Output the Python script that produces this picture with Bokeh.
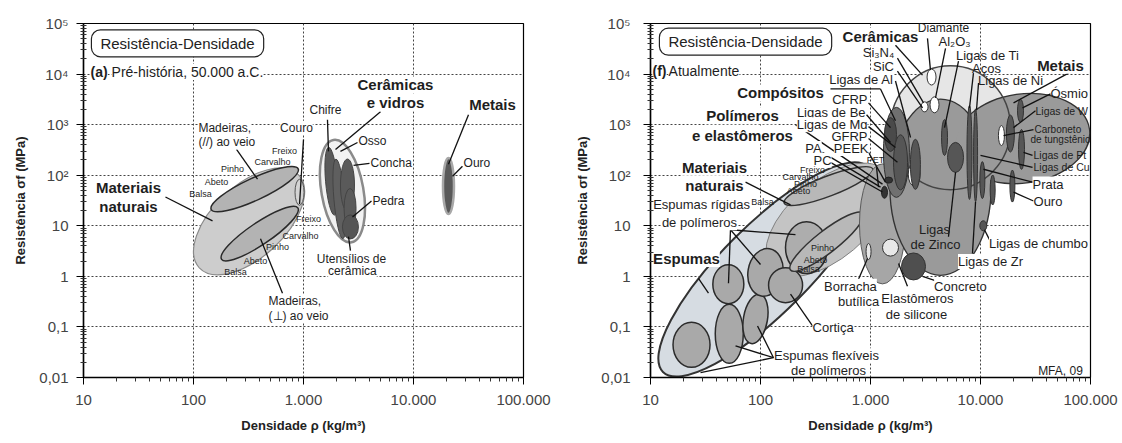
import math
from bokeh.plotting import figure
from bokeh.layouts import row
from bokeh.models import Range1d, FixedTicker, CustomJSTickFormatter, ColumnDataSource, Label
from bokeh.core.properties import value
from bokeh.embed import file_html
from bokeh.resources import INLINE

FONT = "Liberation Sans"

# ---------------- axes data ----------------
x_ticks = [10, 100, 1000, 10000, 100000]
x_tick_labels = ["10", "100", "1.000", "10.000", "100.000"]
y_ticks = [0.01, 0.1, 1, 10, 100, 1000, 10000, 100000]
y_tick_labels = ["0,01", "0,1", "1", "10", "10²", "10³", "10⁴", "10⁵"]

# ---------------- (a) Pre-history : material bubbles ----------------
a_names = ["Materiais naturais", "Madeiras //", "Madeiras ⊥", "Couro",
           "Cerâmicas e vidros", "Chifre", "Osso", "Concha", "Pedra",
           "Utensílios de cerâmica", "Ouro"]
a_rho = [320, 360, 400, 920, 2260, 1800, 2120, 2510, 2650, 2670, 20800]      # kg/m3
a_sig = [12.2, 53, 7.0, 46, 48.5, 76, 34, 64, 22, 9.5, 61]                   # MPa
# styles (screen px / degrees / colours)
a_w = [136, 96, 92, 9, 42, 12, 11, 14, 12, 16, 11]
a_h = [72, 22, 22, 26, 104, 68, 80, 52, 40, 24, 56]
a_ang = [43, 25, 34, 0, 10, 5, 5, 0, 0, 0, 0]
a_fill = ["#cdcdcd", "#b3b3b3", "#b3b3b3", "#d4d4d4", "#f2f2f2", "#5a5a5a",
          "#5f5f5f", "#5a5a5a", "#5a5a5a", "#555555", "#595959"]
a_line = ["#8a8a8a", "#2a2a2a", "#2a2a2a", "#555555", "#8a8a8a", "#444444",
          "#444444", "#444444", "#444444", "#444444", "#a8a8a8"]
a_lw = [1.2, 1.5, 1.5, 1.0, 2.5, 1.0, 1.0, 1.0, 1.0, 1.0, 2.5]

# ---------------- (f) Today : material bubbles ----------------
f_names = ["Espumas", "Materiais naturais", "Espuma flex 1", "Espuma flex 2", "Espuma flex 3",
           "Espuma rígida 1", "Espuma rígida 2", "Cortiça", "Espuma rígida 3",
           "Madeiras //", "Madeiras ⊥", "Polímeros e elastômeros", "Cerâmicas (fundo)",
           "Metais (1)", "Metais (2)", "Cerâmicas", "Compósitos",
           "CFRP", "GFRP", "Ligas de Be", "Ligas de Al", "Ligas de Ti", "Ligas de Zinco",
           "Aços", "Ligas de Ni", "Ligas de Cu", "Prata", "Ligas de chumbo",
           "Carboneto de tungstênio", "Ligas de W", "Ósmio", "Ligas de Pt", "Ouro",
           "Diamante", "Al2O3", "Si3N4", "Elastômeros de silicone", "Borracha butílica",
           "Concreto", "PA", "PEEK"]
f_rho = [111, 415, 23.6, 52, 90,
         51, 111, 169, 262,
         415, 400, 1285, 5330,
         4330, 24100, 5330, 1720,
         1520, 1875, 2500, 2560, 4710, 5930,
         7940, 9020, 10400, 12900, 10600,
         15500, 18700, 23100, 23600, 19500,
         3590, 3820, 3100, 1520, 960,
         2460, 1340, 1460]
f_sig = [1.37, 13.1, 0.0443, 0.073, 0.144,
         0.70, 1.2, 0.67, 3.7,
         61, 4.85, 10.9, 873,
         58, 531, 873, 283,
         637, 180, 105, 164, 556, 225,
         282, 247, 80, 51, 10,
         608, 667, 1880, 324, 61,
         8730, 2470, 2250, 3.7, 3.1,
         1.57, 46, 80]
# styles
f_w = [290, 150, 37, 28, 24, 31, 35, 34, 42, 95, 92, 46, 120, 100, 134, 120, 26,
       12, 14, 12, 10, 6, 16, 5, 4, 5, 5, 7, 6, 8, 6, 6, 5, 9, 9, 7, 16, 5, 24, 6, 8]
f_h = [88, 78, 45, 59, 50, 39, 48, 35, 52, 20, 22, 120, 124, 175, 88, 124, 90,
       34, 55, 24, 50, 36, 30, 94, 93, 37, 30, 10, 20, 37, 23, 40, 32, 16, 16, 10, 17, 16, 27, 12, 6]
f_ang = [45, 40, 0, 0, -10, 0, -10, 0, 0, 21, 38, 0, 0, 0, 8, 0, 0,
         0, 0, 0, 0, 0, 0, 0, 0, 0, 0, 0, 0, 0, 0, 0, 0, 0, 0, 0, 0, 0, 0, 0, 0]
DK = "#565656"
f_fill = ["#d6dce2", "#c4c4c4", "#a9a9a9", "#a9a9a9", "#a9a9a9", "#a9a9a9", "#a9a9a9", "#a9a9a9", "#adadad",
          "#b8b8b8", "#b8b8b8", "#a6a6a6", "#e6e6e6", "#9a9a9a", "#9a9a9a", None, "#707070",
          "#4a4a4a", DK, "white", DK, DK, DK, DK, DK, DK, DK, DK, "white", DK, DK, DK, DK,
          "white", "white", "white", "#e8e8e8", "#e8e8e8", "#4f4f4f", "#333333", "#333333"]
f_line = ["#333333", "#808080", "#2b2b2b", "#2b2b2b", "#2b2b2b", "#2b2b2b", "#2b2b2b", "#2b2b2b", "#2b2b2b",
          "#333333", "#333333", "#5a5a5a", None, "#333333", "#333333", "#444444", "#333333",
          "#333333", "#333333", "#333333", "#333333", "#333333", "#333333", "#333333", "#333333",
          "#333333", "#333333", "#333333", "#333333", "#333333", "#333333", "#333333", "#333333",
          "#333333", "#333333", "#333333", "#333333", "#333333", "#333333", "#222222", "#222222"]
f_lw = [2, 1, 1.5, 1.5, 1.5, 1.5, 1.5, 1.5, 1.5, 1.5, 1.5, 1, 0, 2.5, 2.5, 1.5, 1,
        1, 1, 1, 1, 1, 1, 1, 1, 1, 1, 1, 1, 1, 1, 1, 1, 1, 1, 1, 1, 1, 1, 1, 1]
# the metals envelope is the union of bubbles 13 and 14
f_union = [13, 14]

# ---------------- annotations (text, log10 rho, log10 sigma, size, style, align, white bg) ----------------
a_labels = [
    ("Madeiras,", 2.045, 2.941, 12, "normal", "left", True),
    ("(//) ao veio", 2.045, 2.647, 12, "normal", "left", True),
    ("Couro", 2.936, 2.941, 12, "normal", "center", True),
    ("Freixo", 2.827, 2.471, 9, "normal", "center", False),
    ("Carvalho", 2.718, 2.255, 9, "normal", "center", False),
    ("Pinho", 2.355, 2.118, 9, "normal", "center", False),
    ("Abeto", 2.209, 1.863, 9, "normal", "center", False),
    ("Balsa", 2.064, 1.627, 9, "normal", "center", False),
    ("Freixo", 3.045, 1.137, 9, "normal", "center", False),
    ("Carvalho", 2.973, 0.804, 9, "normal", "center", False),
    ("Pinho", 2.764, 0.588, 9, "normal", "center", False),
    ("Abeto", 2.564, 0.294, 9, "normal", "center", False),
    ("Balsa", 2.382, 0.078, 9, "normal", "center", False),
    ("Madeiras,", 2.682, -0.490, 12, "normal", "left", True),
    ("(⊥) ao veio", 2.682, -0.784, 12, "normal", "left", True),
    ("Materiais", 1.409, 1.765, 15, "bold", "center", True),
    ("naturais", 1.409, 1.373, 15, "bold", "center", True),
    ("Cerâmicas", 3.836, 3.784, 15, "bold", "center", True),
    ("e vidros", 3.836, 3.431, 15, "bold", "center", True),
    ("Metais", 4.718, 3.392, 15, "bold", "center", True),
    ("Chifre", 3.2, 3.294, 12, "normal", "center", True),
    ("Osso", 3.5, 2.667, 12, "normal", "left", True),
    ("Concha", 3.609, 2.235, 12, "normal", "left", True),
    ("Pedra", 3.627, 1.490, 12, "normal", "left", True),
    ("Ouro", 4.455, 2.235, 12, "normal", "left", True),
    ("Utensílios de", 3.436, 0.353, 12, "normal", "center", True),
    ("cerâmica", 3.445, 0.098, 12, "normal", "center", True),
    ("(a)", 1.064, 4.039, 14, "bold", "left", True),
    ("Pré-história, 50.000 a.C.", 1.255, 4.039, 14, "normal", "left", True),
]
a_pointers = [
    (2.391, 2.510, 2.582, 1.922), (3.0, 2.706, 2.964, 1.431), (1.745, 1.569, 2.173, 1.098),
    (2.809, -0.333, 2.609, 0.745), (3.7, 3.255, 3.291, 2.510), (4.5, 3.196, 4.318, 2.216),
    (3.218, 3.098, 3.227, 2.471), (3.491, 2.647, 3.336, 2.471), (3.6, 2.235, 3.455, 2.196),
    (3.618, 1.490, 3.445, 1.176), (4.445, 2.176, 4.355, 1.980), (3.427, 0.510, 3.409, 0.784),
]

f_labels = [
    ("Compósitos", 2.182, 3.627, 15, "bold", "center", True),
    ("Polímeros", 1.836, 3.176, 15, "bold", "center", True),
    ("e elastômeros", 1.836, 2.784, 15, "bold", "center", True),
    ("Materiais", 1.582, 2.157, 15, "bold", "center", True),
    ("naturais", 1.582, 1.804, 15, "bold", "center", True),
    ("Espumas rígidas", 1.464, 1.412, 13, "normal", "center", True),
    ("de polímeros", 1.445, 1.059, 13, "normal", "center", True),
    ("Espumas", 1.327, 0.353, 15, "bold", "center", True),
    ("Espumas flexíveis", 2.6, -1.569, 13, "normal", "center", True),
    ("de polímeros", 2.618, -1.863, 13, "normal", "center", True),
    ("Cortiça", 2.473, -1.020, 13, "normal", "left", True),
    ("Borracha", 2.818, -0.196, 13, "normal", "center", True),
    ("butílica", 2.891, -0.490, 13, "normal", "center", True),
    ("Elastômeros", 3.427, -0.431, 13, "normal", "center", True),
    ("de silicone", 3.418, -0.745, 13, "normal", "center", True),
    ("Concreto", 3.818, -0.196, 13, "normal", "center", True),
    ("Ligas", 3.582, 0.922, 13, "normal", "center", False),
    ("de Zinco", 3.591, 0.627, 13, "normal", "center", False),
    ("Ligas de Zr", 4.091, 0.294, 13, "normal", "center", True),
    ("Ligas de chumbo", 4.527, 0.647, 13, "normal", "center", True),
    ("MFA, 09", 4.727, -1.863, 12, "normal", "center", True),
    ("Cerâmicas", 3.091, 4.745, 15, "bold", "center", True),
    ("Diamante", 3.664, 4.902, 12, "normal", "center", False),
    ("Al₂O₃", 3.764, 4.647, 13, "normal", "center", False),
    ("Si₃N₄", 3.073, 4.431, 13, "normal", "center", False),
    ("SiC", 3.118, 4.157, 13, "normal", "center", False),
    ("Ligas de Ti", 4.064, 4.373, 13, "normal", "center", False),
    ("Aços", 4.055, 4.118, 13, "normal", "center", False),
    ("Ligas de Ni", 4.273, 3.882, 13, "normal", "center", False),
    ("Metais", 4.727, 4.176, 15, "bold", "center", True),
    ("Ósmio", 4.636, 3.608, 13, "normal", "left", False),
    ("Ligas de W", 4.5, 3.275, 10.5, "normal", "left", False),
    ("Carboneto", 4.491, 2.902, 10, "normal", "left", False),
    ("de tungstênio", 4.455, 2.706, 10, "normal", "left", False),
    ("Ligas de Pt", 4.482, 2.392, 10.5, "normal", "left", False),
    ("Ligas de Cu", 4.482, 2.157, 10.5, "normal", "left", False),
    ("Prata", 4.473, 1.824, 13, "normal", "left", True),
    ("Ouro", 4.482, 1.490, 13, "normal", "left", True),
    ("Ligas de Al", 3.209, 3.902, 13, "normal", "right", True),
    ("CFRP", 2.973, 3.490, 13, "normal", "right", True),
    ("Ligas de Be", 2.955, 3.235, 13, "normal", "right", True),
    ("Ligas de Mg", 2.973, 3.0, 13, "normal", "right", True),
    ("GFRP", 2.973, 2.765, 13, "normal", "right", True),
    ("PEEK", 2.982, 2.529, 13, "normal", "right", True),
    ("PA", 2.482, 2.529, 13, "normal", "center", True),
    ("PC", 2.564, 2.294, 13, "normal", "center", True),
    ("PET", 3.045, 2.294, 9, "normal", "center", False),
    ("Freixo", 2.473, 2.098, 9, "normal", "center", False),
    ("Carvalho", 2.364, 1.961, 9, "normal", "center", False),
    ("Pinho", 2.409, 1.824, 9, "normal", "center", False),
    ("Abeto", 2.345, 1.686, 9, "normal", "center", False),
    ("Balsa", 2.018, 1.471, 9, "normal", "center", False),
    ("Pinho", 2.564, 0.569, 9, "normal", "center", False),
    ("Abeto", 2.5, 0.333, 9, "normal", "center", False),
    ("Balsa", 2.436, 0.137, 9, "normal", "center", False),
    ("(f)", 1.018, 4.059, 14, "bold", "left", True),
    ("Atualmente", 1.164, 4.059, 14, "normal", "left", True),
]
f_pointers = [
    (2.636, 3.706, 3.091, 3.706), (3.091, 3.706, 3.227, 3.078),
    (2.318, 3.0, 3.109, 1.824), (1.864, 1.863, 2.273, 1.412),
    (1.727, 0.922, 1.709, -0.137), (1.727, 0.922, 2.0, 0.235), (1.727, 0.922, 2.318, 0.824),
    (1.436, -0.039, 1.527, -0.333),
    (2.118, -1.608, 1.455, -1.902), (2.118, -1.608, 1.773, -1.373), (2.118, -1.608, 1.973, -0.98),
    (2.473, -0.98, 2.273, -0.353), (2.891, -0.059, 2.973, 0.353), (3.336, -0.196, 3.255, 0.255),
    (3.609, -0.098, 3.473, 0.0), (3.709, 0.784, 3.773, 2.059), (3.927, 0.451, 3.955, 1.471),
    (4.091, 0.686, 4.036, 0.922),
    (3.227, 4.569, 3.473, 3.980), (3.518, 4.706, 3.545, 4.078), (3.682, 4.510, 3.591, 3.529),
    (3.245, 4.314, 3.482, 3.431), (3.245, 4.059, 3.473, 3.333), (3.8, 4.255, 3.673, 2.941),
    (3.936, 4.020, 3.9, 3.333), (3.982, 3.824, 3.964, 3.294), (4.8, 4.020, 4.3, 3.431),
    (4.636, 3.608, 4.382, 3.333), (4.5, 3.275, 4.3, 2.941), (4.482, 2.902, 4.209, 2.784),
    (4.473, 2.392, 4.391, 2.451), (4.473, 2.157, 4.0, 2.392), (4.473, 1.863, 4.027, 2.118),
    (4.482, 1.490, 4.3, 1.667),
    (3.227, 3.863, 3.364, 2.745), (2.982, 3.431, 3.182, 2.941), (2.964, 3.196, 3.182, 2.647),
    (2.982, 2.961, 3.227, 2.549), (2.982, 2.725, 3.245, 2.255), (2.982, 2.451, 3.136, 1.863),
    (2.564, 2.451, 3.091, 1.765), (2.636, 2.255, 3.109, 1.667), (3.055, 2.157, 3.073, 1.765),
]

# title boxes positions (log10 rho, log10 sigma)
title_text = "Resistência-Densidade"
a_title_pos = (1.855, 4.608)
f_title_pos = (1.864, 4.640)


def make_fig(width, height, border_left, border_right, border_top, border_bottom,
             ylabel_standoff, ytick_standoff):
    p = figure(x_axis_type="log", y_axis_type="log",
               x_range=Range1d(10, 100000), y_range=Range1d(0.01, 100000),
               width=width, height=height,
               min_border_left=border_left, min_border_right=border_right,
               min_border_top=border_top, min_border_bottom=border_bottom,
               output_backend="svg", toolbar_location=None)
    minor_x = [m * 10 ** k for k in range(1, 5) for m in range(2, 10)]
    minor_y = [m * 10.0 ** k for k in range(-2, 5) for m in range(2, 10)]
    p.xaxis.ticker = FixedTicker(ticks=x_ticks, minor_ticks=minor_x)
    p.yaxis.ticker = FixedTicker(ticks=y_ticks, minor_ticks=minor_y)
    p.xgrid.ticker = FixedTicker(ticks=x_ticks)
    p.ygrid.ticker = FixedTicker(ticks=y_ticks)
    code = ("const k = Math.round(Math.log(tick) / Math.LN10);"
            "const i = exps.indexOf(k); return i >= 0 ? labs[i] : '';")
    p.xaxis.formatter = CustomJSTickFormatter(
        args=dict(exps=[round(math.log10(t)) for t in x_ticks], labs=x_tick_labels), code=code)
    p.yaxis.formatter = CustomJSTickFormatter(
        args=dict(exps=[round(math.log10(t)) for t in y_ticks], labs=y_tick_labels), code=code)
    p.xaxis.axis_label = "Densidade ρ (kg/m³)"
    p.yaxis.axis_label = "Resistência σf (MPa)"
    for ax in (p.xaxis, p.yaxis):
        ax.axis_label_text_font = FONT
        ax.axis_label_text_font_style = "bold"
        ax.axis_label_text_font_size = "13px"
        ax.axis_label_text_color = "#222222"
        ax.major_label_text_font = FONT
        ax.major_label_text_font_size = "15px"
        ax.major_label_text_color = "#444444"
        ax.axis_line_color = "black"
        ax.axis_line_width = 1.5
        ax.major_tick_line_color = "black"
        ax.minor_tick_line_color = "#333333"
        ax.major_tick_out = 7
        ax.major_tick_in = 0
    p.xaxis.minor_tick_out = 4
    p.xaxis.minor_tick_in = 0
    p.yaxis.minor_tick_out = 3
    p.yaxis.minor_tick_in = 3
    p.xaxis.major_label_standoff = 10
    p.yaxis.major_label_standoff = ytick_standoff
    p.xaxis.axis_label_standoff = 10
    p.yaxis.axis_label_standoff = ylabel_standoff
    p.grid.grid_line_color = "#444444"
    p.grid.grid_line_dash = "2 2"
    p.grid.grid_line_width = 1
    p.outline_line_color = "black"
    p.outline_line_width = 1.2
    p.background_fill_color = "white"
    p.border_fill_color = "white"
    return p


def draw_one(p, rho, sig, w, h, ang, fill, line, lw):
    p.ellipse(x=[rho], y=[sig], width=[w], height=[h], angle=[math.radians(ang)],
              width_units="screen", height_units="screen",
              fill_color=fill, line_color=line, line_width=lw if lw > 0 else 1,
              line_alpha=1 if line else 0, fill_alpha=1 if fill else 0)


def draw_bubbles(p, rho, sig, w, h, ang, fill, line, lw, union=()):
    drawn_union = False
    for i in range(len(rho)):
        if i in union:
            if drawn_union:
                continue
            drawn_union = True
            for j in union:   # outlines first
                draw_one(p, rho[j], sig[j], w[j], h[j], ang[j], None, line[j], lw[j])
            for j in union:   # then fills, hiding inner outlines
                draw_one(p, rho[j], sig[j], w[j], h[j], ang[j], fill[j], None, 0)
            continue
        draw_one(p, rho[i], sig[i], w[i], h[i], ang[i], fill[i], line[i], lw[i])


def draw_pointers(p, ptrs):
    xs = [[10 ** a, 10 ** c] for a, b, c, d in ptrs]
    ys = [[10 ** b, 10 ** d] for a, b, c, d in ptrs]
    p.multi_line(xs=xs, ys=ys, line_color="#111111", line_width=1.3)


def draw_labels(p, labels):
    for bg in (True, False):
        sel = [l for l in labels if l[6] == bg]
        if not sel:
            continue
        src = ColumnDataSource(dict(
            x=[10 ** l[1] for l in sel], y=[10 ** l[2] for l in sel], t=[l[0] for l in sel],
            fs=["%gpx" % l[3] for l in sel], st=[l[4] for l in sel], al=[l[5] for l in sel]))
        kw = dict(background_fill_color="white") if bg else {}
        p.text(x="x", y="y", text="t", source=src, text_font=value(FONT), text_font_size="fs",
               text_font_style="st", text_align="al", text_baseline="middle",
               text_color="#1e1e1e", **kw)


def title_box(p, pos):
    p.add_layout(Label(x=10 ** pos[0], y=10 ** pos[1], text=title_text,
                       text_font=FONT, text_font_size="15px", text_color="#222222",
                       text_align="center", text_baseline="middle",
                       background_fill_color="white", border_line_color="#222222",
                       border_line_width=1.2, border_radius=9,
                       padding=dict(left=9, right=9, top=5, bottom=5)))


# ---------------- left figure ----------------
pa = make_fig(560, 443, 83, 37, 23, 63, 8, 8)
draw_bubbles(pa, a_rho, a_sig, a_w, a_h, a_ang, a_fill, a_line, a_lw)
draw_pointers(pa, a_pointers)
draw_labels(pa, a_labels)
title_box(pa, a_title_pos)

# ---------------- right figure ----------------
pf = make_fig(562, 443, 90, 32, 20, 66, 8, 13)
draw_bubbles(pf, f_rho, f_sig, f_w, f_h, f_ang, f_fill, f_line, f_lw, union=f_union)
draw_pointers(pf, f_pointers)
draw_labels(pf, f_labels)
title_box(pf, f_title_pos)

layout = row(pa, pf)
open("out.html", "w").write(file_html(layout, INLINE))
